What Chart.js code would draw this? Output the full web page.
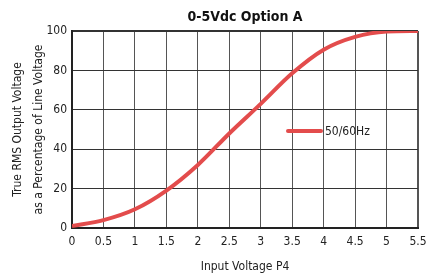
<!DOCTYPE html>
<html>
<head>
<meta charset="utf-8">
<script src="https://cdn.jsdelivr.net/npm/chart.js@4"></script>
<style>
  html, body { margin: 0; padding: 0; background: #fff; }
  #wrap { width: 427px; height: 278px; }
</style>
</head>
<body>
<div id="wrap"><canvas id="chart" width="427" height="278"></canvas></div>
<script>
// Data
const inputVolts = [0, 0.5, 1, 1.5, 2, 2.5, 3, 3.5, 4, 4.5, 5, 5.5];
const outputPct = [1, 4, 9.5, 19, 32, 48, 63, 78.5, 90.5, 97, 99.7, 100];
const seriesName = '50/60Hz';
const chartTitle = '0-5Vdc Option A';
const xTitle = 'Input Voltage P4';
const yTitle = ['True RMS Output Voltage', 'as a Percentage of Line Voltage'];

const FONT = "'DejaVu Sans Condensed', 'Liberation Sans', sans-serif";
const RED = '#e34c4c';

// title centred over the plot area, legend drawn inside it
const overlay = {
    id: 'overlay',
    afterDraw(chart) {
        const { ctx, chartArea } = chart;
        ctx.save();
        ctx.fillStyle = '#111';
        ctx.font = 'bold 14px ' + FONT;
        ctx.textAlign = 'center';
        ctx.textBaseline = 'alphabetic';
        ctx.fillText(chartTitle, (chartArea.left + chartArea.right) / 2, 21);

        const x = chartArea.left + 216;
        const y = chartArea.top + 100;
        ctx.strokeStyle = RED;
        ctx.lineWidth = 4;
        ctx.lineCap = 'round';
        ctx.beginPath();
        ctx.moveTo(x, y);
        ctx.lineTo(x + 33, y);
        ctx.stroke();
        ctx.fillStyle = '#222';
        ctx.font = '12px ' + FONT;
        ctx.textAlign = 'left';
        ctx.textBaseline = 'middle';
        ctx.fillText(seriesName, x + 37, y + 1);
        ctx.restore();
    }
};

const edgeWidth = (max) => (c) => (c.tick && (c.tick.value === 0 || c.tick.value === max) ? 2 : 1);

new Chart(document.getElementById('chart').getContext('2d'), {
    type: 'line',
    data: {
        datasets: [{
            label: seriesName,
            data: inputVolts.map((v, i) => ({ x: v, y: outputPct[i] })),
            borderColor: RED,
            borderWidth: 4,
            pointRadius: 0,
            cubicInterpolationMode: 'monotone',
            fill: false
        }]
    },
    options: {
        responsive: false,
        animation: false,
        layout: { padding: { top: 31, right: 9, bottom: 0, left: 0 } },
        plugins: {
            legend: { display: false },
            tooltip: { enabled: false },
            title: { display: false }
        },
        scales: {
            x: {
                type: 'linear',
                min: 0,
                max: 5.5,
                ticks: {
                    stepSize: 0.5,
                    color: '#222',
                    font: { family: FONT, size: 12 },
                    padding: 7,
                    maxRotation: 0,
                    callback: (v) => String(v)
                },
                grid: { color: '#555', lineWidth: edgeWidth(5.5), drawTicks: false },
                border: { color: '#222', width: 2 },
                title: {
                    display: true,
                    text: xTitle,
                    color: '#222',
                    font: { family: FONT, size: 12 },
                    padding: { top: 8 }
                },
                afterFit(scale) {
                    scale.height = 50;
                    scale.paddingLeft = 0;
                    scale.paddingRight = 0;
                }
            },
            y: {
                min: 0,
                max: 100,
                ticks: {
                    stepSize: 20,
                    color: '#222',
                    font: { family: FONT, size: 12 },
                    padding: 5
                },
                grid: { color: '#333', lineWidth: edgeWidth(100), drawTicks: false },
                border: { color: '#222', width: 2 },
                title: {
                    display: true,
                    text: yTitle,
                    color: '#222',
                    font: { family: FONT, size: 12, lineHeight: 1.7 },
                    padding: { top: 8, bottom: 3 }
                },
                afterFit(scale) {
                    scale.width = 72;
                    scale.paddingTop = 0;
                    scale.paddingBottom = 0;
                }
            }
        }
    },
    plugins: [overlay]
});
</script>
</body>
</html>
